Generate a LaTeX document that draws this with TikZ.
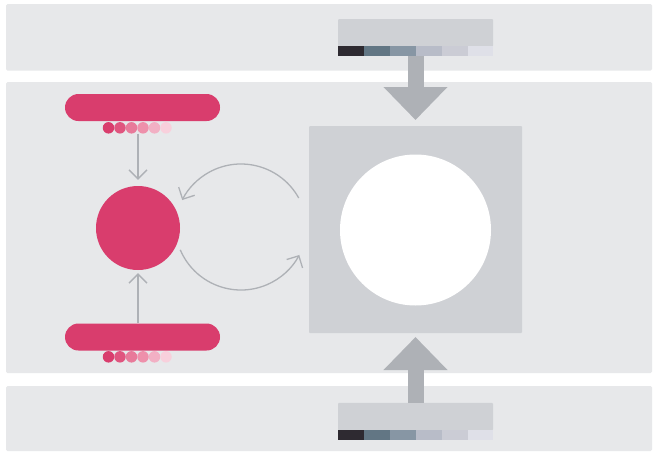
\documentclass[tikz,border=0pt]{standalone}
\usetikzlibrary{arrows.meta}
\definecolor{band}{HTML}{E7E8EA}
\definecolor{boxg}{HTML}{CFD1D5}
\definecolor{arrg}{HTML}{AEB1B6}
\definecolor{pink}{HTML}{D93D6D}
\definecolor{pk1}{HTML}{D93D6D}
\definecolor{pk2}{HTML}{E0557F}
\definecolor{pk3}{HTML}{E87A9A}
\definecolor{pk4}{HTML}{EE90AB}
\definecolor{pk5}{HTML}{F2B0C4}
\definecolor{pk6}{HTML}{F8D0DC}
\definecolor{sw1}{HTML}{2E2A31}
\definecolor{sw2}{HTML}{627684}
\definecolor{sw3}{HTML}{8796A4}
\definecolor{sw4}{HTML}{B8BCC8}
\definecolor{sw5}{HTML}{CBCCD5}
\definecolor{sw6}{HTML}{DFE0E8}
\begin{document}
\begin{tikzpicture}[x=1pt,y=-1pt,
  bandbox/.style={fill=band,draw=none,rounded corners=1.5pt},
  pill/.style={fill=pink,draw=none,rounded corners=13.5pt,minimum width=155pt,minimum height=27pt,inner sep=0pt},
  dotc/.style={circle,draw=none,minimum size=11.5pt,inner sep=0pt},
  swatch/.style={draw=none,minimum width=25.9pt,minimum height=9.5pt,inner sep=0pt},
  graybox/.style={fill=boxg,draw=none,minimum width=155pt,minimum height=27.5pt,inner sep=0pt,rounded corners=1pt},
  bigarrow/.style={draw=arrg,line width=16pt,-{Triangle[length=33pt,width=62pt]}},
  thinarrow/.style={draw=arrg,line width=1.3pt,-{Straight Barb[length=9pt,width=18pt,line width=1.3pt]}}
]
\useasboundingbox (0,0) rectangle (653,453);
\fill[white] (0,0) rectangle (653,453);
% bands
\fill[bandbox] (6,4) rectangle (652,70.5);
\fill[bandbox] (6,82) rectangle (652,373);
\fill[bandbox] (6,386) rectangle (652,451);
% top gray box and swatches
\node[graybox] (topbox) at (415.5,32.75) {};
\foreach \i/\c in {1/sw1,2/sw2,3/sw3,4/sw4,5/sw5,6/sw6}
  \node[swatch,fill=\c] (ts\i) at ({338+25.9*(\i-0.5)},51.2) {};
% bottom gray box and swatches
\node[graybox] (botbox) at (415.5,416.5) {};
\foreach \i/\c in {1/sw1,2/sw2,3/sw3,4/sw4,5/sw5,6/sw6}
  \node[swatch,fill=\c] (bs\i) at ({338+25.9*(\i-0.5)},435) {};
% main square and circle
\node[fill=boxg,draw=none,minimum width=213pt,minimum height=207pt,inner sep=0pt,rounded corners=1pt] (square) at (415.5,229.5) {};
\node[circle,fill=white,draw=none,minimum size=151pt,inner sep=0pt] (hole) at (415.5,230) {};
% big arrows
\coordinate (topstrip) at (415.5,55.9);
\coordinate (topin) at (415.5,120);
\coordinate (botin) at (415.5,337);
\draw[bigarrow] (topstrip) -- (topin);
\draw[bigarrow] (botbox.north) -- (botin);
% pink pills
\node[pill] (ptop) at (142.5,107.5) {};
\node[pill] (pbot) at (142.5,337) {};
\foreach \i/\c in {1/pk1,2/pk2,3/pk3,4/pk4,5/pk5,6/pk6}{
  \node[dotc,fill=\c] (dt\i) at ({108.5+11.5*(\i-1)},127.8) {};
  \node[dotc,fill=\c] (db\i) at ({108.5+11.5*(\i-1)},356.8) {};
}
% pink circle
\node[circle,fill=pink,draw=none,minimum size=84pt,inner sep=0pt] (pc) at (138,228) {};
% thin arrows
\coordinate (a1s) at (138,133.5);
\coordinate (a2s) at (138,323);
\draw[thinarrow] (a1s) -- ([yshift=6pt]pc.north);
\draw[thinarrow] (a2s) -- ([yshift=-3pt]pc.south);
% curved arrows
\coordinate (ctop) at (241,230);
\coordinate (cbot) at (241,224);
\draw[thinarrow] ([shift={(-29:66)}]ctop) arc[start angle=-29,end angle=-153,radius=66];
\draw[thinarrow] ([shift={(157:66)}]cbot) arc[start angle=157,end angle=28,radius=66];
\end{tikzpicture}
\end{document}
